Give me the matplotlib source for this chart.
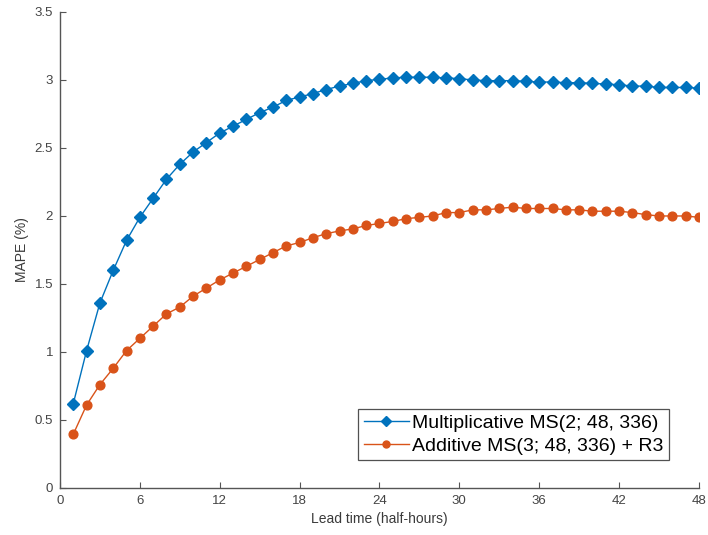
import matplotlib
matplotlib.use('Agg')
import matplotlib.pyplot as plt
import numpy as np

plt.rcParams['font.family'] = ['Liberation Sans', 'DejaVu Sans']

# lead times 1..48 half-hours
lead = list(range(1, 49))

mult_ms = [0.62, 1.01, 1.36, 1.60, 1.82, 1.99, 2.13, 2.27, 2.38, 2.47,
           2.54, 2.61, 2.66, 2.71, 2.76, 2.80, 2.85, 2.875, 2.90, 2.93,
           2.955, 2.975, 2.995, 3.005, 3.015, 3.02, 3.02, 3.02, 3.015, 3.01,
           3.0, 2.995, 2.995, 2.995, 2.99, 2.985, 2.985, 2.98, 2.98, 2.975,
           2.97, 2.965, 2.955, 2.955, 2.945, 2.945, 2.945, 2.94]

add_ms_r3 = [0.395, 0.61, 0.76, 0.88, 1.01, 1.10, 1.19, 1.28, 1.33, 1.41,
             1.47, 1.53, 1.58, 1.63, 1.68, 1.73, 1.78, 1.805, 1.84, 1.87,
             1.89, 1.905, 1.93, 1.945, 1.96, 1.98, 1.99, 2.0, 2.025, 2.025,
             2.045, 2.045, 2.055, 2.065, 2.055, 2.055, 2.055, 2.045, 2.045, 2.035,
             2.035, 2.035, 2.025, 2.01, 2.0, 2.0, 2.0, 1.99]

labels = ['Multiplicative MS(2; 48, 336)', 'Additive MS(3; 48, 336) + R3']
xticks = np.arange(0, 49, 6)
yticks = np.arange(0, 3.51, 0.5)

fig = plt.figure(figsize=(7.08, 5.35), dpi=100)
ax = fig.add_axes([0.0847, 0.0879, 0.9025, 0.8897])

ax.plot(lead, mult_ms, '-D', color='#0072BD', lw=1.0, ms=6, label=labels[0])
ax.plot(lead, add_ms_r3, '-o', color='#D95319', lw=1.0, ms=6.3, label=labels[1])

ax.set_xlim(0, 48)
ax.set_ylim(0, 3.5)
ax.set_xticks(xticks)
ax.set_yticks(yticks)
ax.set_yticklabels(['0', '0.5', '1', '1.5', '2', '2.5', '3', '3.5'])
ax.tick_params(direction='in', length=4, width=0.8, colors='#555555',
               labelcolor='#444444', labelsize=9.5, pad=5)
for s in ['top', 'right']:
    ax.spines[s].set_visible(False)
for s in ['left', 'bottom']:
    ax.spines[s].set_color('#555555')
    ax.spines[s].set_linewidth(1.0)

ax.set_xlabel('Lead time (half-hours)', fontsize=10, color='#3a3a3a')
ax.set_ylabel('MAPE (%)', fontsize=10, color='#3a3a3a')

leg = ax.legend(loc='lower right', bbox_to_anchor=(0.953, 0.058), fontsize=14,
                frameon=True, fancybox=False, edgecolor='#262626',
                handlelength=2.3, handletextpad=0.15, borderpad=0.3,
                labelspacing=0.25, borderaxespad=0)
leg.get_frame().set_linewidth(0.9)
for h in leg.legend_handles:
    h.set_markersize(5)

fig.savefig('out.png', dpi=100)
